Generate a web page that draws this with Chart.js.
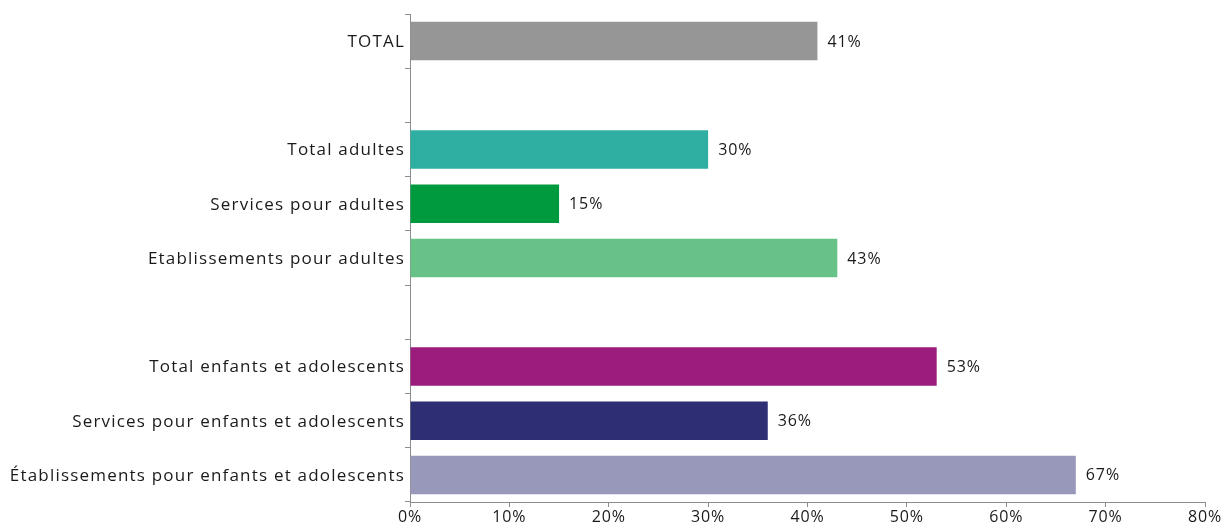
<!DOCTYPE html>
<html>
<head>
<meta charset="utf-8">
<script src="https://cdn.jsdelivr.net/npm/chart.js@4.4.1/dist/chart.umd.min.js"></script>
<style>
  html, body { margin: 0; padding: 0; background: #fff; }
  canvas { display: block; }
</style>
</head>
<body>
<canvas id="chart" width="1231" height="530"></canvas>
<script>
// empty labels are the gaps between groups
const categories = [
    'TOTAL',
    '',
    'Total adultes',
    'Services pour adultes',
    'Etablissements pour adultes',
    '',
    'Total enfants et adolescents',
    'Services pour enfants et adolescents',
    'Établissements pour enfants et adolescents'
];
const values = [41, null, 30, 15, 43, null, 53, 36, 67];
const xTicks = [0, 10, 20, 30, 40, 50, 60, 70, 80];

const barColors = ['#969696', null, '#2fafa1', '#009a3e', '#67c288', null, '#9b1c7c', '#2d2e74', '#9898bb'];
const axisColor = '#8c8c8c';
const textColor = '#1a1a1a';
const fontFamily = '"Open Sans", sans-serif';

// wider letters, closer to the original typeface
const letterSpacing = {
    id: 'letterSpacing',
    beforeDraw(chart) { chart.ctx.letterSpacing = '0.9px'; }
};

const valueLabels = {
    id: 'valueLabels',
    afterDatasetsDraw(chart) {
        const ctx = chart.ctx;
        const meta = chart.getDatasetMeta(0);
        ctx.save();
        ctx.letterSpacing = '0.9px';
        ctx.font = '16px ' + fontFamily;
        ctx.fillStyle = textColor;
        ctx.textAlign = 'left';
        ctx.textBaseline = 'middle';
        meta.data.forEach((bar, i) => {
            if (values[i] === null) return;
            ctx.fillText(values[i] + '%', bar.x + 10, bar.y + 1);
        });
        ctx.restore();
    }
};

const yLabels = {
    id: 'yLabels',
    afterDraw(chart) {
        const ctx = chart.ctx;
        const y = chart.scales.y;
        ctx.save();
        ctx.letterSpacing = '1.2px';
        ctx.font = '17px ' + fontFamily;
        ctx.fillStyle = textColor;
        ctx.textAlign = 'right';
        ctx.textBaseline = 'middle';
        categories.forEach((c, i) => {
            if (!c) return;
            ctx.fillText(c, y.right - 5, y.getPixelForValue(i) + 1);
        });
        ctx.restore();
    }
};

new Chart(document.getElementById('chart'), {
    type: 'bar',
    data: {
        labels: categories,
        datasets: [{
            data: values,
            backgroundColor: barColors,
            categoryPercentage: 0.71,
            barPercentage: 1,
        }]
    },
    options: {
        indexAxis: 'y',
        responsive: false,
        animation: false,
        layout: { padding: { top: 14, right: 26, left: 0, bottom: 0 } },
        plugins: { legend: { display: false }, tooltip: { enabled: false } },
        scales: {
            x: {
                min: 0,
                max: 80,
                afterBuildTicks: s => { s.ticks = xTicks.map(v => ({ value: v })); },
                afterFit: s => { s.height = 28; },
                border: { color: axisColor, width: 1 },
                grid: { drawOnChartArea: false, color: axisColor, tickLength: 5 },
                ticks: {
                    color: textColor,
                    padding: 1,
                    maxRotation: 0,
                    font: { family: fontFamily, size: 16 },
                    callback: v => v + '%'
                }
            },
            y: {
                afterFit: s => { s.width = 410; },
                border: { color: axisColor, width: 1 },
                grid: { drawOnChartArea: false, color: axisColor, tickLength: 5, offset: true },
                ticks: {
                    // labels drawn by the yLabels plugin with a larger font
                    color: 'rgba(0,0,0,0)',
                    padding: 1,
                    autoSkip: false,
                    font: { family: fontFamily, size: 16 }
                }
            }
        }
    },
    plugins: [letterSpacing, valueLabels, yLabels]
});
</script>
</body>
</html>
